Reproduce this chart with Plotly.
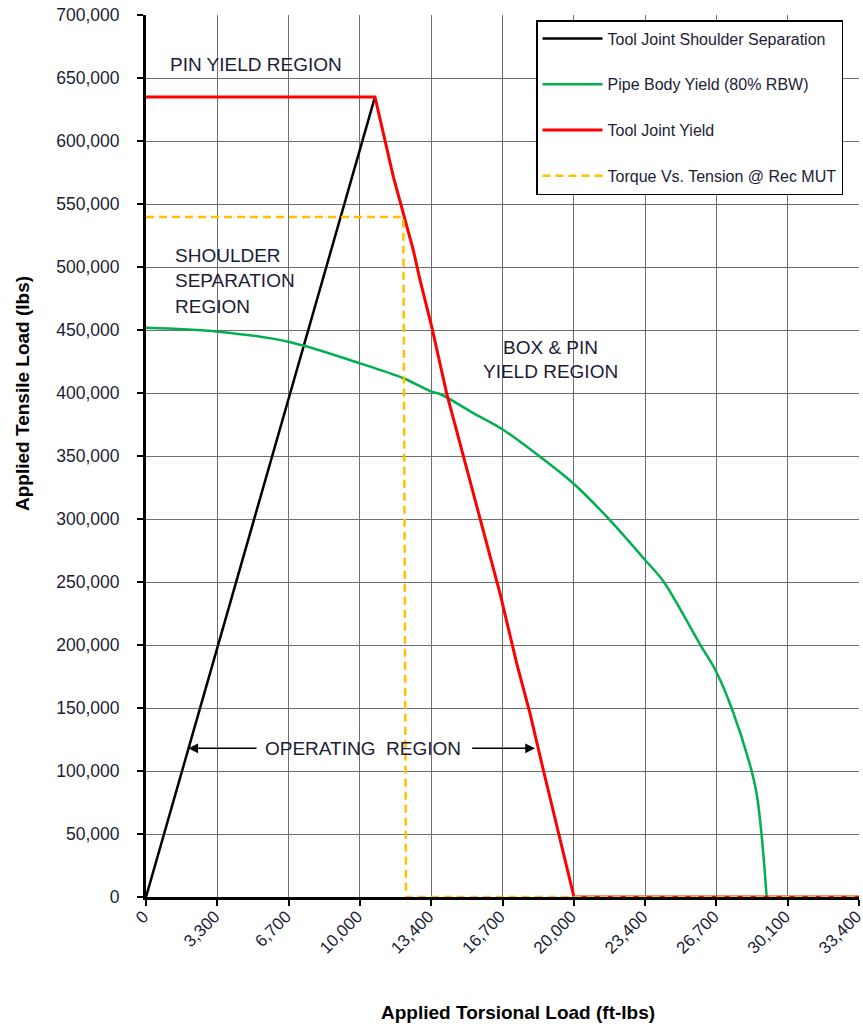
import plotly.graph_objects as go

# ---- data ----
shoulder_x = [0, 2534, 10024, 10727]
shoulder_y = [0, 150000, 592900, 635000]

pipe_x = [0, 3388, 6667, 10024, 12054, 13383, 13772, 15334, 16690, 18457, 20097, 21581,
          23376, 24234, 25952, 26702, 27437, 28294, 28606, 28840, 29075]
pipe_y = [451800, 448700, 440700, 423500, 411700, 401000, 399200, 384000, 371200, 349400, 327000, 301800,
          267500, 250600, 200500, 179200, 149800, 104800, 82000, 48600, 0]

tj_x = [0, 10727, 11585, 12054, 12522, 12836, 13383, 14084, 14788, 15334, 15724, 16583,
        17365, 17988, 18612, 19394, 20050, 33400]
tj_y = [635000, 635000, 571700, 542500, 513500, 489700, 452600, 399700, 354800, 320400, 293900, 241000,
        185400, 145700, 100800, 45200, 0, 0]

mut_x = [0, 12054, 12180, 33400]
mut_y = [539700, 539700, 0, 0]

x_tickvals = [0, 3340, 6680, 10020, 13360, 16700, 20040, 23380, 26720, 30060, 33400]
x_ticktext = ["0", "3,300", "6,700", "10,000", "13,400", "16,700", "20,000",
              "23,400", "26,700", "30,100", "33,400"]
y_tickvals = list(range(0, 700001, 50000))
y_ticktext = [f"{v:,}" for v in y_tickvals]

series_names = ["Tool Joint Shoulder Separation", "Pipe Body Yield (80% RBW)",
                "Tool Joint Yield", "Torque Vs. Tension @ Rec MUT"]

FONT = "Liberation Sans, Arial, sans-serif"
TXT = "#1c1c36"

fig = go.Figure()
fig.add_trace(go.Scatter(x=shoulder_x, y=shoulder_y, mode="lines", name=series_names[0],
                         line=dict(color="#000000", width=2.5), cliponaxis=False, legendgroup="a"))
fig.add_trace(go.Scatter(x=pipe_x, y=pipe_y, mode="lines", name=series_names[1],
                         line=dict(color="#00B050", width=2.5, shape="spline", smoothing=1.0),
                         cliponaxis=False, legendgroup="b"))
fig.add_trace(go.Scatter(x=tj_x, y=tj_y, mode="lines", name=series_names[2],
                         line=dict(color="#FF0000", width=3), cliponaxis=False, legendgroup="c"))
fig.add_trace(go.Scatter(x=mut_x, y=mut_y, mode="lines", name=series_names[3],
                         line=dict(color="#FFC000", width=2.5, dash="8px,5px"),
                         cliponaxis=False, legendgroup="d"))

ann_font = dict(family=FONT, size=19, color=TXT)
annotations = [
    dict(text="PIN YIELD REGION", x=1017, y=661000, xanchor="left", yanchor="middle"),
    dict(text="SHOULDER", x=1265, y=509500, xanchor="left", yanchor="middle"),
    dict(text="SEPARATION", x=1265, y=489300, xanchor="left", yanchor="middle"),
    dict(text="REGION", x=1265, y=469000, xanchor="left", yanchor="middle"),
    dict(text="BOX & PIN", x=18970, y=436500, xanchor="center", yanchor="middle"),
    dict(text="YIELD REGION", x=18970, y=416700, xanchor="center", yanchor="middle"),
    dict(text="OPERATING  REGION", x=10142, y=118000, xanchor="center", yanchor="middle"),
]
for a in annotations:
    a.update(xref="x", yref="y", showarrow=False, font=ann_font)

arrows = [
    dict(x=1981, y=118000, ax=5247, ay=118000),
    dict(x=18223, y=118000, ax=15210, ay=118000),
]
for a in arrows:
    a.update(xref="x", yref="y", axref="x", ayref="y", text="", showarrow=True,
             arrowhead=2, arrowsize=1.3, arrowwidth=1.5, arrowcolor="#000000")

titles = [
    dict(text="<b>Applied Torsional Load (ft-lbs)</b>", x=0.5217, y=-0.1304,
         xanchor="center", yanchor="middle", textangle=0),
    dict(text="<b>Applied Tensile Load (lbs)</b>", x=-0.1725, y=0.5703,
         xanchor="center", yanchor="middle", textangle=-90),
]
for a in titles:
    a.update(xref="paper", yref="paper", showarrow=False,
             font=dict(family=FONT, size=19, color="#000000"))

fig.update_layout(
    width=863, height=1026,
    margin=dict(l=146, r=4, t=15, b=129, autoexpand=False),
    paper_bgcolor="white", plot_bgcolor="white",
    font=dict(family=FONT, color=TXT),
    annotations=annotations + arrows + titles,
    showlegend=True,
    legend=dict(x=0.547, y=0.9943, xanchor="left", yanchor="top",
                bgcolor="white", bordercolor="#000000", borderwidth=1.5,
                font=dict(family=FONT, size=16, color=TXT),
                traceorder="grouped", tracegroupgap=22, itemwidth=60),
)
fig.update_xaxes(range=[0, 33400], tickvals=x_tickvals, ticktext=x_ticktext, tickangle=-45,
                 ticklabelposition="outside left",
                 showgrid=True, gridcolor="#6e6e6e", gridwidth=1,
                 showline=True, linecolor="#000000", linewidth=3,
                 ticks="outside", ticklen=6, tickwidth=2, tickcolor="#000000",
                 tickfont=dict(family=FONT, size=17, color=TXT), ticklabeloverflow="allow",
                 automargin=False, zeroline=False, layer="below traces")
fig.update_yaxes(range=[0, 700000], tickvals=y_tickvals, ticktext=y_ticktext,
                 showgrid=True, gridcolor="#6e6e6e", gridwidth=1,
                 showline=True, linecolor="#000000", linewidth=3,
                 ticks="outside", ticklen=6, tickwidth=2, tickcolor="#000000",
                 tickfont=dict(family=FONT, size=17.5, color=TXT), ticklabelstandoff=14,
                 ticklabeloverflow="allow", automargin=False,
                 zeroline=False, layer="below traces")

fig.write_html("out.html", config={"displayModeBar": False},
               post_script="document.body.style.margin='0px';document.body.style.overflow='hidden';")
